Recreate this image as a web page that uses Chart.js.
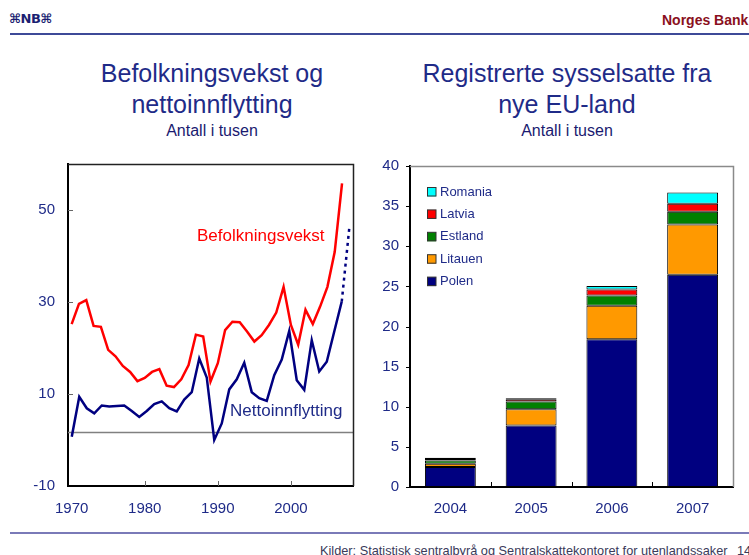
<!DOCTYPE html>
<html lang="no">
<head>
<meta charset="UTF-8">
<title>Befolkningsvekst og registrerte sysselsatte fra nye EU-land</title>
<script src="https://cdn.jsdelivr.net/npm/chart.js"></script>
<style>
  body { margin:0; width:749px; height:555px; position:relative; overflow:hidden; background:#fff;
         font-family:"Liberation Sans", Arial, sans-serif; }
  .abs { position:absolute; white-space:nowrap; }
  canvas { position:absolute; }
  #logo { left:9px; top:11px; font:bold 13px "DejaVu Sans", sans-serif; color:#1b1f72; letter-spacing:-0.5px; }
  #bank { left:662px; top:12px; font-weight:bold; font-size:14px; color:#8a1020; }
  .rule { left:10px; width:739px; height:2px; }
  .title { text-align:center; color:#1f2b88; font-size:25px; line-height:31px; width:360px; }
  .sub { font-size:16px; line-height:20px; color:#1a1a70; margin-top:1px; }
  .note { font-size:17px; line-height:20px; }
  .src { top:543px; font-size:12.75px; color:#3a3a5a; }
</style>
</head>
<body>
  <div class="abs" id="logo">⌘NB⌘</div>
  <div class="abs" id="bank">Norges Bank</div>
  <div class="abs rule" style="top:33px;background:#3e4a98"></div>

  <div class="abs title" style="left:32px;top:58px">Befolkningsvekst og<br>nettoinnflytting<div class="sub">Antall i tusen</div></div>
  <div class="abs title" style="left:387px;top:58px">Registrerte sysselsatte fra<br>nye EU-land<div class="sub">Antall i tusen</div></div>

  <canvas id="chartLeft" width="370" height="380" style="left:0;top:150px"></canvas>
  <canvas id="chartRight" width="379" height="380" style="left:370px;top:150px"></canvas>

  <div class="abs note" style="left:197px;top:226px;color:#ff0000">Befolkningsvekst</div>
  <div class="abs note" style="left:230px;top:401px;color:#1f2b88">Nettoinnflytting</div>

  <div class="abs rule" style="top:532px;background:#7a7ab8"></div>
  <div class="abs src" style="left:320px">Kilder: Statistisk sentralbyrå og Sentralskattekontoret for utenlandssaker</div>
  <div class="abs src" style="left:737px">14</div>

<script>
// ---- left chart data (thousands) ----
const befolkYears = [1970, 1971, 1972, 1973, 1974, 1975, 1976, 1977, 1978, 1979,
                     1980, 1981, 1982, 1983, 1984, 1985, 1986, 1987, 1988, 1989,
                     1990, 1991, 1992, 1993, 1994, 1995, 1996, 1997, 1998, 1999,
                     2000, 2001, 2002, 2003, 2004, 2005, 2006, 2007];
const befolkningsvekst = [25.2, 29.6, 30.4, 24.8, 24.6, 19.6, 18.2, 16.1, 14.8, 12.8,
                          13.5, 14.8, 15.4, 11.8, 11.5, 13.2, 16.3, 22.9, 22.5, 12.7,
                          16.7, 23.9, 25.7, 25.6, 23.6, 21.4, 22.8, 25.0, 27.7, 33.3,
                          25.0, 20.7, 28.3, 25.2, 29.0, 33.3, 40.9, 55.8];
const nettoYears = [1970, 1971, 1972, 1973, 1974, 1975, 1976, 1977, 1978, 1979,
                    1980, 1981, 1982, 1983, 1984, 1985, 1986, 1987, 1988, 1989,
                    1990, 1991, 1992, 1993, 1994, 1995, 1996, 1997, 1998, 1999,
                    2000, 2001, 2002, 2003, 2004, 2005, 2006];
const nettoinnflytting = [0.7, 9.4, 6.9, 5.8, 7.5, 7.3, 7.4, 7.5, 6.3, 5.0,
                          6.3, 7.8, 8.4, 6.9, 6.2, 8.8, 10.4, 17.7, 13.6, 0.0,
                          3.6, 11.0, 13.2, 16.8, 10.4, 9.1, 8.5, 14.1, 17.5, 23.7,
                          13.0, 10.9, 21.7, 14.9, 17.0, 23.6, 30.1];
const nettoProjYears = [2006, 2007];
const nettoProj = [30.1, 46.0];
const refLineValue = 1.7;
const leftYTicks = [-10, 10, 30, 50];
const leftXTicks = [1970, 1980, 1990, 2000];

// ---- right chart data (thousands) ----
const euYears = ['2004', '2005', '2006', '2007'];
const polen   = [2.5, 7.65, 18.4, 26.45];
const litauen = [0.4, 2.05, 4.2, 6.25];
const estland = [0.4, 0.95, 1.25, 1.6];
const latvia  = [0.2, 0.3, 0.75, 1.0];
const romania = [0.15, 0.1, 0.45, 1.4];
const rightYTicks = [0, 5, 10, 15, 20, 25, 30, 35, 40];

const navy = '#1f2b88';
Chart.defaults.font.family = '"Liberation Sans", Arial, sans-serif';
Chart.defaults.color = navy;

const pairs = (xs, ys) => xs.map((x, i) => ({ x: x, y: ys[i] }));

// fixed axis sizes, no extra label padding, so the plot area lands where the original has it
const fixY = w => s => { s.width = w; s.paddingTop = 0; s.paddingBottom = 0; };
const fixX = h => s => { s.height = h; s.paddingLeft = 0; s.paddingRight = 0; };

// frame on top/right, small ticks, optional reference line
const framePlugin = {
  id: 'frame',
  beforeDatasetsDraw(chart, args, opts) {
    if (opts.refLine === undefined) return;
    const { ctx, chartArea: a } = chart;
    const y = Math.round(chart.scales.y.getPixelForValue(opts.refLine)) + 0.5;
    ctx.save();
    ctx.strokeStyle = '#808080';
    ctx.lineWidth = 1.5;
    ctx.beginPath();
    ctx.moveTo(a.left, y);
    ctx.lineTo(a.right, y);
    ctx.stroke();
    ctx.restore();
  },
  afterDatasetsDraw(chart, args, opts) {
    const { ctx, chartArea: a } = chart;
    ctx.save();
    ctx.strokeStyle = opts.color;
    ctx.lineWidth = opts.width;
    ctx.beginPath();
    ctx.moveTo(a.left, a.top + 0.5);
    ctx.lineTo(a.right + 0.5, a.top + 0.5);
    ctx.lineTo(a.right + 0.5, a.bottom);
    ctx.stroke();

    ctx.strokeStyle = opts.tickColor;
    ctx.lineWidth = 1;
    ctx.beginPath();
    (opts.xTicks(chart) || []).forEach(px => {
      const x = Math.round(px) + 0.5;
      ctx.moveTo(x, a.bottom);
      ctx.lineTo(x, a.bottom - 5);
    });
    (opts.yTicks(chart) || []).forEach(py => {
      const y = Math.round(py) + 0.5;
      ctx.moveTo(a.left + opts.yTickFrom, y);
      ctx.lineTo(a.left + opts.yTickTo, y);
    });
    ctx.stroke();
    ctx.restore();
  }
};

// legend inside the plot, top-left, reversed order
const innerLegend = {
  id: 'innerLegend',
  afterDatasetsDraw(chart) {
    const { ctx, chartArea: a } = chart;
    const sets = chart.data.datasets.slice().reverse();
    ctx.save();
    ctx.font = '13px "Liberation Sans", Arial, sans-serif';
    ctx.textBaseline = 'middle';
    sets.forEach((ds, k) => {
      const cy = a.top + 26 + k * 22.4;
      const bx = a.left + 17;
      ctx.fillStyle = ds.backgroundColor;
      ctx.fillRect(bx, cy - 4.5, 9, 9);
      ctx.strokeStyle = '#333';
      ctx.lineWidth = 1;
      ctx.strokeRect(bx + 0.5, cy - 4.5, 8.5, 8.5);
      ctx.fillStyle = navy;
      ctx.fillText(ds.label, bx + 13, cy);
    });
    ctx.restore();
  }
};

new Chart(document.getElementById('chartLeft'), {
  type: 'line',
  data: {
    datasets: [
      { label: 'Befolkningsvekst', data: pairs(befolkYears, befolkningsvekst), xAxisID: 'x',
        borderColor: '#ff0000', borderWidth: 2.5, pointRadius: 0, tension: 0 },
      { label: 'Nettoinnflytting', data: pairs(nettoYears, nettoinnflytting), xAxisID: 'x2',
        borderColor: '#000080', borderWidth: 2.5, pointRadius: 0, tension: 0 },
      { label: 'Nettoinnflytting (anslag)', data: pairs(nettoProjYears, nettoProj), xAxisID: 'x2',
        borderColor: '#000080', borderWidth: 2.5, borderDash: [3, 4], pointRadius: 0 }
    ]
  },
  options: {
    responsive: false,
    animation: false,
    layout: { padding: { top: 14, right: 17, left: 0, bottom: 0 } },
    plugins: {
      legend: { display: false },
      tooltip: { enabled: false },
      frame: {
        color: '#222', width: 1.5, tickColor: '#666', refLine: refLineValue,
        yTickFrom: 0, yTickTo: 5,
        xTicks: c => leftXTicks.slice(1).map(v => c.scales.x.getPixelForValue(v)),
        yTicks: c => leftYTicks.slice(1).map(v => c.scales.y.getPixelForValue(v))
      }
    },
    scales: {
      x: {
        type: 'linear', min: 1969.5, max: 2008.5,
        afterBuildTicks: s => { s.ticks = leftXTicks.map(v => ({ value: v })); },
        afterFit: fixX(44),
        grid: { display: false, drawTicks: false },
        border: { color: '#000', width: 2 },
        ticks: { font: { size: 15 }, padding: 14, maxRotation: 0, callback: v => String(v) }
      },
      x2: { type: 'linear', display: false, min: 1969.5, max: 2007.5 },
      y: {
        min: -10, max: 60,
        afterBuildTicks: s => { s.ticks = leftYTicks.map(v => ({ value: v })); },
        afterFit: fixY(68),
        grid: { display: false, drawTicks: false },
        border: { color: '#000', width: 2 },
        ticks: { font: { size: 15 }, padding: 13 }
      }
    }
  },
  plugins: [framePlugin]
});

const barBase = { borderColor: '#000', borderWidth: 1, borderSkipped: false,
                  barPercentage: 0.63, categoryPercentage: 1 };

new Chart(document.getElementById('chartRight'), {
  type: 'bar',
  data: {
    labels: euYears,
    datasets: [
      Object.assign({ label: 'Polen', data: polen, backgroundColor: '#000080' }, barBase),
      Object.assign({ label: 'Litauen', data: litauen, backgroundColor: '#ff9900' }, barBase),
      Object.assign({ label: 'Estland', data: estland, backgroundColor: '#008000' }, barBase),
      Object.assign({ label: 'Latvia', data: latvia, backgroundColor: '#ff0000' }, barBase),
      Object.assign({ label: 'Romania', data: romania, backgroundColor: '#00ffff' }, barBase)
    ]
  },
  options: {
    responsive: false,
    animation: false,
    layout: { padding: { top: 16, right: 16, left: 0, bottom: 0 } },
    plugins: {
      legend: { display: false },
      tooltip: { enabled: false },
      frame: {
        color: '#8a8a8a', width: 1.5, tickColor: '#000',
        yTickFrom: -4, yTickTo: 0,
        xTicks: c => euYears.slice(1).map((_, i) =>
          (c.scales.x.getPixelForValue(i) + c.scales.x.getPixelForValue(i + 1)) / 2),
        yTicks: c => rightYTicks.map(v => c.scales.y.getPixelForValue(v))
      }
    },
    scales: {
      x: {
        stacked: true,
        afterFit: fixX(43),
        grid: { display: false, drawTicks: false },
        border: { color: '#000', width: 2 },
        ticks: { font: { size: 15 }, padding: 13, maxRotation: 0 }
      },
      y: {
        stacked: true, min: 0, max: 40,
        afterBuildTicks: s => { s.ticks = rightYTicks.map(v => ({ value: v })); },
        afterFit: fixY(40),
        grid: { display: false, drawTicks: false },
        border: { color: '#000', width: 2 },
        ticks: { font: { size: 15 }, padding: 11 }
      }
    }
  },
  plugins: [framePlugin, innerLegend]
});
</script>
</body>
</html>
